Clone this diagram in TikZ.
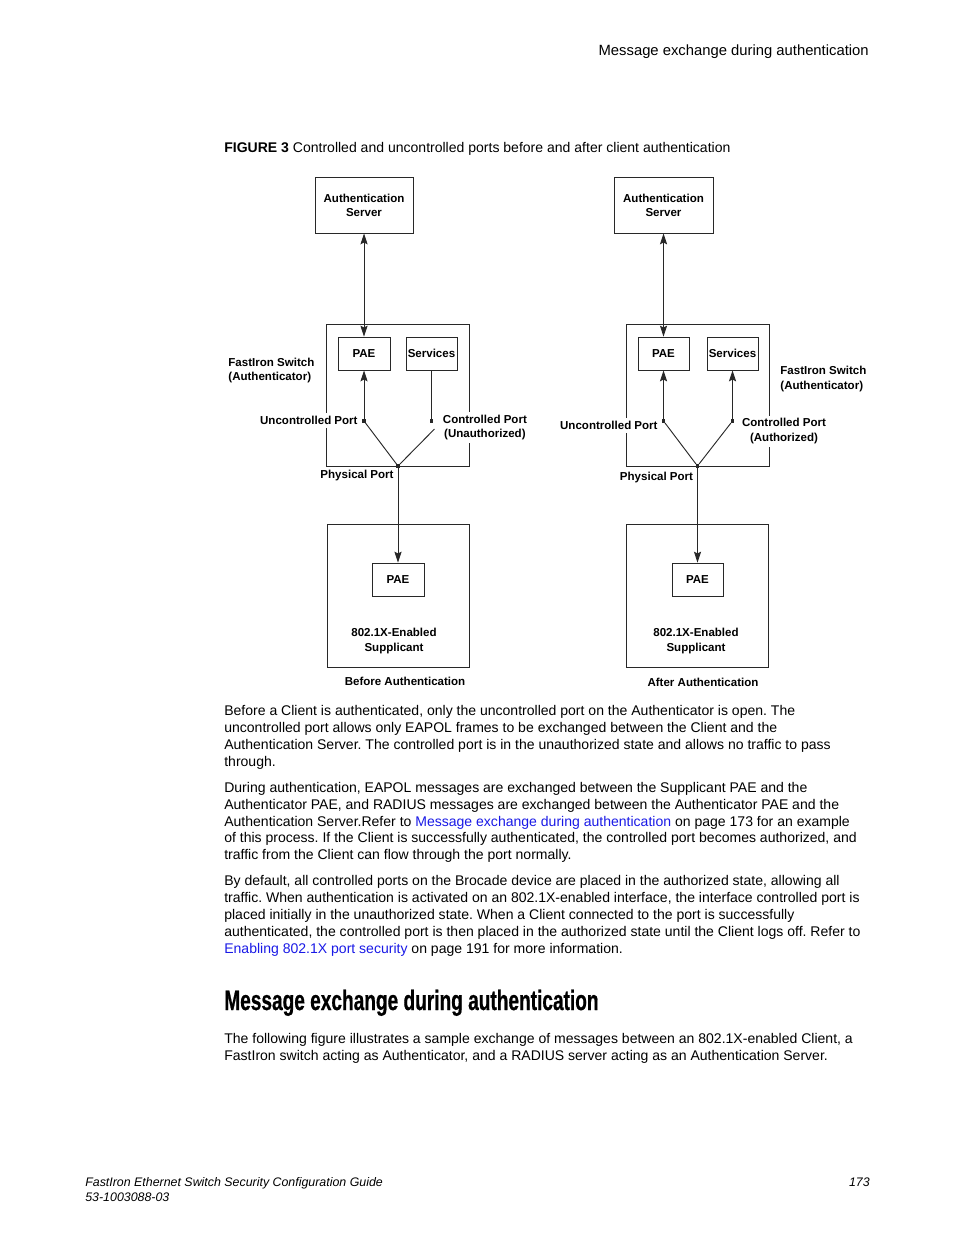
\documentclass[tikz,border=0pt]{standalone}
\usepackage{fontspec}
\setmainfont{Liberation Sans}
\newfontfamily\headfont[FakeStretch=0.68,FakeBold=0.6]{Liberation Sans}
\usetikzlibrary{arrows.meta}
\newcommand\px{0.6415pt}
\newcommand\diag{\fontsize{7.4}{9}\selectfont\bfseries}
\newcommand\bodyfont{\fontsize{9}{11}\selectfont}
\definecolor{linkblue}{RGB}{25,25,230}
\definecolor{ln}{RGB}{40,40,40}
\frenchspacing
\begin{document}
\begin{tikzpicture}[x=0.6415pt,y=-0.6415pt,
  box/.style={draw=ln, line width=0.6pt, inner sep=0pt, font=\diag, align=center},
  dim/.style 2 args={minimum width=#1*\px, minimum height=#2*\px},
  dot/.style={fill=ln, rectangle, inner sep=0pt, minimum size=3.4*\px},
  conn/.style={draw=ln, line width=0.6pt},
  arr/.style={-{Stealth[length=7pt,width=4.6pt,inset=1.2pt]}},
  darr/.style={{Stealth[length=7pt,width=4.6pt,inset=1.2pt]}-{Stealth[length=7pt,width=4.6pt,inset=1.2pt]}},
  lbl/.style={font=\diag, inner sep=2pt, align=center},
  wlbl/.style={lbl, fill=white},
  body/.style={font=\bodyfont, anchor=base west, inner sep=0pt},
]
\useasboundingbox (0,0) rectangle (954,1235);

% page header
\node[font=\fontsize{9.5}{11}\selectfont, anchor=base east, inner sep=0pt] (hdr) at (869,55) {Message exchange during authentication};

% caption
\node[body] (cap) at (224,152) {\textbf{FIGURE 3} Controlled and uncontrolled ports before and after client authentication};

% ---------- left diagram ----------
\node[box, dim={98}{56}] (as1) at (364,205) {Authentication\\Server};
\node[box, dim={143}{142}] (sw1) at (397.5,395) {};
\node[box, dim={52}{33}] (pae1) at (364,353.5) {PAE};
\node[box, dim={51}{33}] (svc1) at (431.5,353.5) {Services};
\node[dot] (u1) at (364,421) {};
\node[dot] (c1) at (431.5,421) {};
\node[dot] (p1) at (398,466) {};
\coordinate (c1open) at (434.5,429);
\node[box, dim={142}{143}] (sup1) at (398,595.5) {};
\node[box, dim={52}{33}, text depth=-3pt] (spae1) at (398,579.5) {PAE};
\node[lbl] (sup1t) at (394,641) {802.1X-Enabled\\Supplicant};
\node[lbl] (bef) at (405,681.5) {Before Authentication};

\draw[conn,darr] (as1) -- (pae1);
\draw[conn,arr] (u1) -- (pae1);
\draw[conn] (svc1) -- (c1);
\draw[conn] (u1) -- (p1);
\draw[conn] (p1) -- (c1open);
\draw[conn,arr] (p1) -- (spae1);

\node[lbl, anchor=west, align=left] (fs1) at (225,370.5) {FastIron Switch\\(Authenticator)};
\node[wlbl, anchor=east] (ucp1) at (361,420.5) {Uncontrolled Port};
\node[wlbl, anchor=west] (cp1) at (439.5,427.5) {Controlled Port\\(Unauthorized)};
\node[lbl, anchor=east] (pp1) at (397,475.5) {Physical Port};

% ---------- right diagram ----------
\node[box, dim={99}{56}] (as2) at (663.5,205) {Authentication\\Server};
\node[box, dim={143}{142}] (sw2) at (697.5,395) {};
\node[box, dim={51}{33}, text depth=-2pt] (pae2) at (663.5,353.5) {PAE};
\node[box, dim={51}{33}, text depth=-1pt] (svc2) at (732.5,353.5) {Services};
\node[dot] (u2) at (663.5,421) {};
\node[dot] (c2) at (732.5,421) {};
\node[dot] (p2) at (697.5,466) {};
\node[box, dim={142}{143}] (sup2) at (697,595.5) {};
\node[box, dim={51}{33}] (spae2) at (697.5,579.5) {PAE};
\node[lbl] (sup2t) at (696,641) {802.1X-Enabled\\Supplicant};
\node[lbl] (aft) at (703,682.5) {After Authentication};

\draw[conn,darr] (as2) -- (pae2);
\draw[conn,arr] (u2) -- (pae2);
\draw[conn,arr] (c2) -- (svc2);
\draw[conn] (u2) -- (p2);
\draw[conn] (p2) -- (c2);
\draw[conn,arr] (p2) -- (spae2);

\node[lbl, anchor=west, align=left] (fs2) at (777,379) {FastIron Switch\\(Authenticator)};
\node[wlbl, anchor=east] (ucp2) at (661,425.5) {Uncontrolled Port};
\node[wlbl] (cp2) at (784,431) {Controlled Port\\(Authorized)};
\node[lbl, anchor=east] (pp2) at (696.5,477.5) {Physical Port};

% ---------- body text ----------
\node[body] (l1) at (224,715.5) {Before a Client is authenticated, only the uncontrolled port on the Authenticator is open. The};
\node[body] (l2) at (224,732.5) {uncontrolled port allows only EAPOL frames to be exchanged between the Client and the};
\node[body] (l3) at (224,749.5) {Authentication Server. The controlled port is in the unauthorized state and allows no traffic to pass};
\node[body] (l4) at (224,766.5) {through.};

\node[body] (l5) at (224,792.5) {During authentication, EAPOL messages are exchanged between the Supplicant PAE and the};
\node[body] (l6) at (224,809.5) {Authenticator PAE, and RADIUS messages are exchanged between the Authenticator PAE and the};
\node[body] (l7) at (224,826) {Authentication Server.Refer to \textcolor{linkblue}{Message exchange during authentication} on page 173 for an example};
\node[body] (l8) at (224,842.5) {of this process. If the Client is successfully authenticated, the controlled port becomes authorized, and};
\node[body] (l9) at (224,859.5) {traffic from the Client can flow through the port normally.};

\node[body] (l10) at (224,885.5) {By default, all controlled ports on the Brocade device are placed in the authorized state, allowing all};
\node[body] (l11) at (224,902.5) {traffic. When authentication is activated on an 802.1X-enabled interface, the interface controlled port is};
\node[body] (l12) at (224,919.5) {placed initially in the unauthorized state. When a Client connected to the port is successfully};
\node[body] (l13) at (224,936.5) {authenticated, the controlled port is then placed in the authorized state until the Client logs off. Refer to};
\node[body] (l14) at (224,953.5) {\textcolor{linkblue}{Enabling 802.1X port security} on page 191 for more information.};

\node[anchor=base west, inner sep=0pt, font=\headfont\fontsize{18}{20}\selectfont\bfseries] (h2) at (224,1010) {Message exchange during authentication};

\node[body] (l15) at (224,1043.5) {The following figure illustrates a sample exchange of messages between an 802.1X-enabled Client, a};
\node[body] (l16) at (224,1060.5) {FastIron switch acting as Authenticator, and a RADIUS server acting as an Authentication Server.};

% ---------- footer ----------
\node[font=\fontsize{7.95}{9}\selectfont\itshape, anchor=base west, inner sep=0pt] (f1) at (85,1186) {FastIron Ethernet Switch Security Configuration Guide};
\node[font=\fontsize{7.95}{9}\selectfont\itshape, anchor=base west, inner sep=0pt] (f2) at (85,1201) {53-1003088-03};
\node[font=\fontsize{7.95}{9}\selectfont\itshape, anchor=base east, inner sep=0pt] (f3) at (870,1186) {173};
\end{tikzpicture}
\end{document}
